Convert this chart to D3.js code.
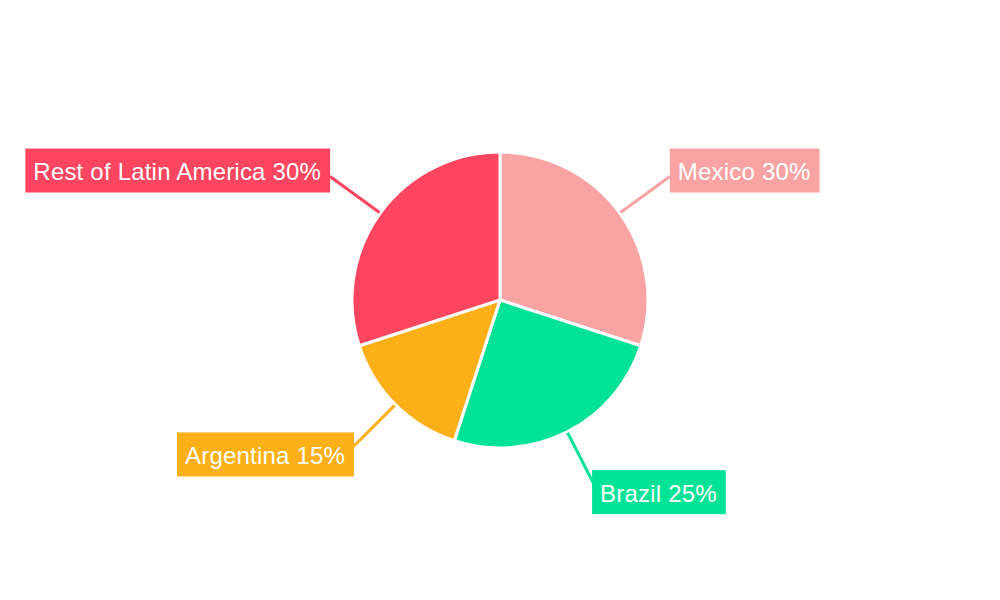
<!DOCTYPE html>
<html>
<head>
  <meta charset="utf-8">
  <script src="https://d3js.org/d3.v7.min.js"></script>
  <style>
    body { margin: 0; background: #ffffff; }
    svg { display: block; }
    .label text {
      font-family: "Liberation Sans", Arial, sans-serif;
      font-size: 24px;
      letter-spacing: 0.2px;
      fill: #ffffff;
    }
  </style>
</head>
<body>
  <svg id="chart" width="1000" height="600"></svg>
<script>
  const countries = ["Mexico", "Brazil", "Argentina", "Rest of Latin America"];
  const shares = [30, 25, 15, 30];
  const colors = ["#F9A3A4", "#00E396", "#FEB019", "#FF4560"];

  const width = 1000, height = 600;
  const center = { x: 500, y: 300 };
  const radius = 148;
  const anchorRadius = 205;
  const lineEnd = 210;

  const svg = d3.select("#chart");
  const g = svg.append("g").attr("transform", `translate(${center.x},${center.y})`);

  const data = countries.map((c, i) => ({ name: c, value: shares[i], color: colors[i] }));

  const pie = d3.pie().sort(null).value(d => d.value);
  const arc = d3.arc().innerRadius(0).outerRadius(radius);
  const arcs = pie(data);

  g.selectAll("path.slice")
    .data(arcs)
    .join("path")
      .attr("class", "slice")
      .attr("d", arc)
      .attr("fill", d => d.data.color)
      .attr("stroke", "#ffffff")
      .attr("stroke-width", 3);

  function polar(r, a) {
    return [r * Math.sin(a), -r * Math.cos(a)];
  }

  // connector lines
  g.selectAll("line.conn")
    .data(arcs)
    .join("line")
      .attr("class", "conn")
      .each(function (d) {
        const mid = (d.startAngle + d.endAngle) / 2;
        const [x1, y1] = polar(radius + 1, mid);
        const [x2, y2] = polar(lineEnd, mid);
        d3.select(this)
          .attr("x1", x1).attr("y1", y1)
          .attr("x2", x2).attr("y2", y2);
      })
      .attr("stroke", d => d.data.color)
      .attr("stroke-width", 3);

  // label boxes
  const padX = 8, boxH = 44;
  const labels = g.selectAll("g.label")
    .data(arcs)
    .join("g")
      .attr("class", "label");

  labels.each(function (d) {
    const sel = d3.select(this);
    const mid = (d.startAngle + d.endAngle) / 2;
    const [ax, ay] = polar(anchorRadius, mid);
    const right = Math.sin(mid) >= 0;
    const below = Math.cos(mid) < 0;

    const rect = sel.append("rect").attr("fill", d.data.color);
    const text = sel.append("text")
      .attr("dominant-baseline", "central")
      .text(`${d.data.name} ${d.data.value}%`);

    const tw = text.node().getComputedTextLength();
    const bw = tw + padX * 2 + 1;
    let off = 4;
    if (below) off = right ? -1 : 1;
    const bx = right ? ax + off : ax - off - bw;
    const cy = below ? ay + 9.5 : ay - 9;

    rect.attr("x", bx).attr("y", cy - boxH / 2)
      .attr("width", bw).attr("height", boxH);
    text.attr("x", bx + padX).attr("y", cy + 1);
  });
</script>
</body>
</html>
